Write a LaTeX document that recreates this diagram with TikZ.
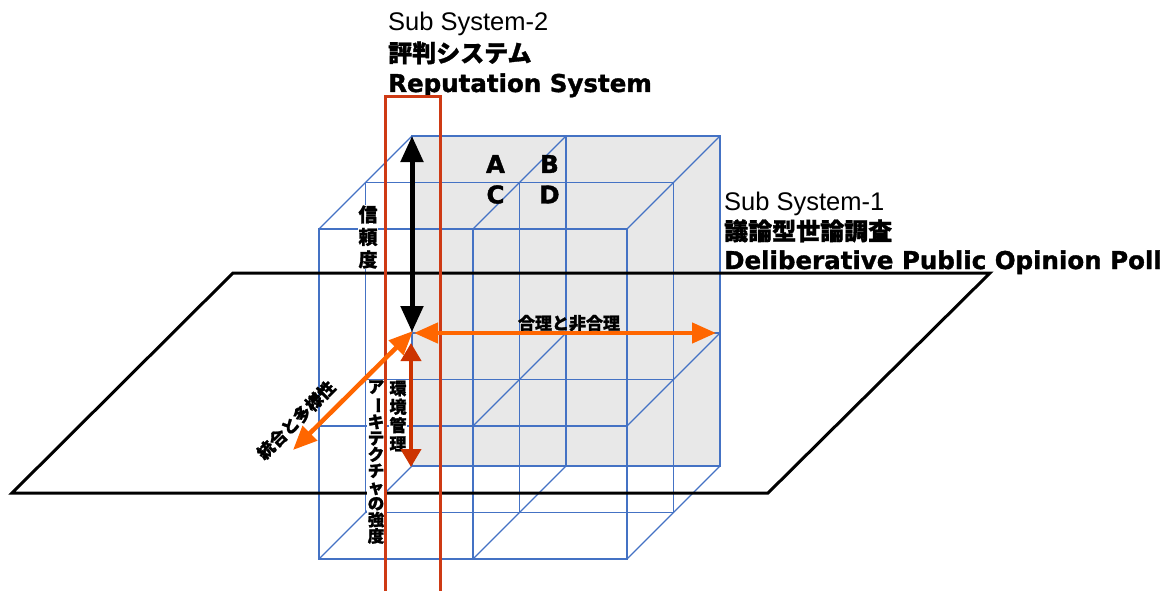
\documentclass[tikz,border=0pt]{standalone}
\usepackage{fontspec}
\setmainfont{Liberation Sans}
\newfontfamily\heavyfont{DejaVu Sans}[BoldFeatures={FakeBold=1.4}]
\newfontfamily\jpfont{Noto Sans CJK JP}[BoldFeatures={FakeBold=1.3}]
\usetikzlibrary{arrows.meta,positioning,calc}
\definecolor{gridblue}{RGB}{68,114,196}
\definecolor{backgrey}{RGB}{232,232,232}
\definecolor{sysred}{RGB}{206,58,20}
\definecolor{axorange}{RGB}{255,102,0}
\definecolor{axred}{RGB}{204,51,0}

\begin{document}
\begin{tikzpicture}[x=1pt, y=-1pt,
  grid/.style={draw=gridblue, line width=1.3pt},
  plane/.style={draw, line width=3pt, line join=miter},
  frame/.style={draw=sysred, line width=3pt},
  title/.style={inner sep=0pt, font=\fontsize{25.5}{30}\selectfont},
  jptitle/.style={inner sep=0pt, font=\jpfont\bfseries\fontsize{24}{28}\selectfont},
  entitle/.style={inner sep=0pt, font=\heavyfont\bfseries\fontsize{24.5}{29}\selectfont},
  cell/.style={inner sep=0pt, font=\heavyfont\bfseries\fontsize{24.5}{29}\selectfont},
  axlabel/.style={inner sep=0.5pt, font=\jpfont\bfseries\fontsize{17}{18.5}\selectfont},
  vlabel/.style={axlabel, fill=white, align=center},
  blackaxis/.style={line width=5pt, >={Triangle[length=26pt,width=22pt]}, <->},
  orangeaxis/.style={draw=axorange, line width=4.5pt,
    >={Triangle[length=24pt,width=20pt]}, <->},
  redaxis/.style={draw=axred, line width=4pt,
    >={Triangle[length=18pt,width=20pt]}, <->}]
\useasboundingbox (0,0) rectangle (1172,591);

% back face
\fill[backgrey] (412,136) rectangle (720,466);
% three depth layers of the cube
\foreach \d in {0,1,2}{
  \begin{scope}[shift={(-46.5*\d,46.5*\d)}]
    \draw[grid] (412,136) rectangle (720,466);
    \draw[grid] (566,136) -- (566,466);
    \draw[grid] (412,333) -- (720,333);
  \end{scope}
}
% depth edges
\foreach \x in {412,566,720}
  \foreach \y in {136,333,466}
    \draw[grid] (\x,\y) -- ++(-93,93);

% the ground plane
\draw[plane] (12,493) -- (768,493) -- (990,273) -- (233,273) -- cycle;

% titles
\node[title, anchor=base west] (ss2) at (388,31) {Sub System-2};
\node[jptitle, anchor=base west] (ss2jp) at (388,62) {評判システム};
\node[entitle, anchor=base west] (ss2en) at (388,92) {Reputation System};
\node[title, anchor=base west] (ss1) at (724,210) {Sub System-1};
\node[jptitle, anchor=base west] (ss1jp) at (724,240) {議論型世論調査};
\node[entitle, anchor=base west] (ss1en) at (724,269) {Deliberative Public Opinion Poll};

% cells
\node[cell] (ca) at (495.5,164) {A};
\node[cell] (cb) at (549.5,164) {B};
\node[cell] (cc) at (495.5,194.5) {C};
\node[cell] (cd) at (549.5,194.5) {D};

% axis labels
\node[vlabel, font=\jpfont\bfseries\fontsize{19}{22.5}\selectfont] (trustlbl)
  at (368,237) {信\\頼\\度};
\node[vlabel] (envlbl) at (398,416) {環\\境\\管\\理};
\node[vlabel, font=\jpfont\bfseries\fontsize{16.5}{16.3}\selectfont] (archlbl)
  at (376,462) {ア\\\rotatebox[origin=c]{-90}{ー}\\キ\\テ\\ク\\チ\\ャ\\の\\強\\度};
\node[axlabel, anchor=south] (ratlbl) at (569,332) {合理と非合理};
\node[axlabel, rotate=45] (divlbl) at (296,420) {統合と多様性};

% reputation system frame
\draw[frame] (385,591) -- (385,97) -- (440,97) -- (440,591);

% axes
\coordinate (org) at (412,332);
\coordinate (trusttop) at (412,136);
\coordinate (ratleft) at (414,333);
\coordinate (ratright) at (716,333);
\coordinate (divin) at (413,331);
\coordinate (divout) at (293,450);
\coordinate (envtop) at (411,343);
\coordinate (envbot) at (411,467);
\draw[orangeaxis] (ratleft) -- (ratright);
\draw[orangeaxis] (divin) -- (divout);
\draw[redaxis] (envtop) -- (envbot);
\draw[blackaxis] (org) -- (trusttop);
\end{tikzpicture}
\end{document}
